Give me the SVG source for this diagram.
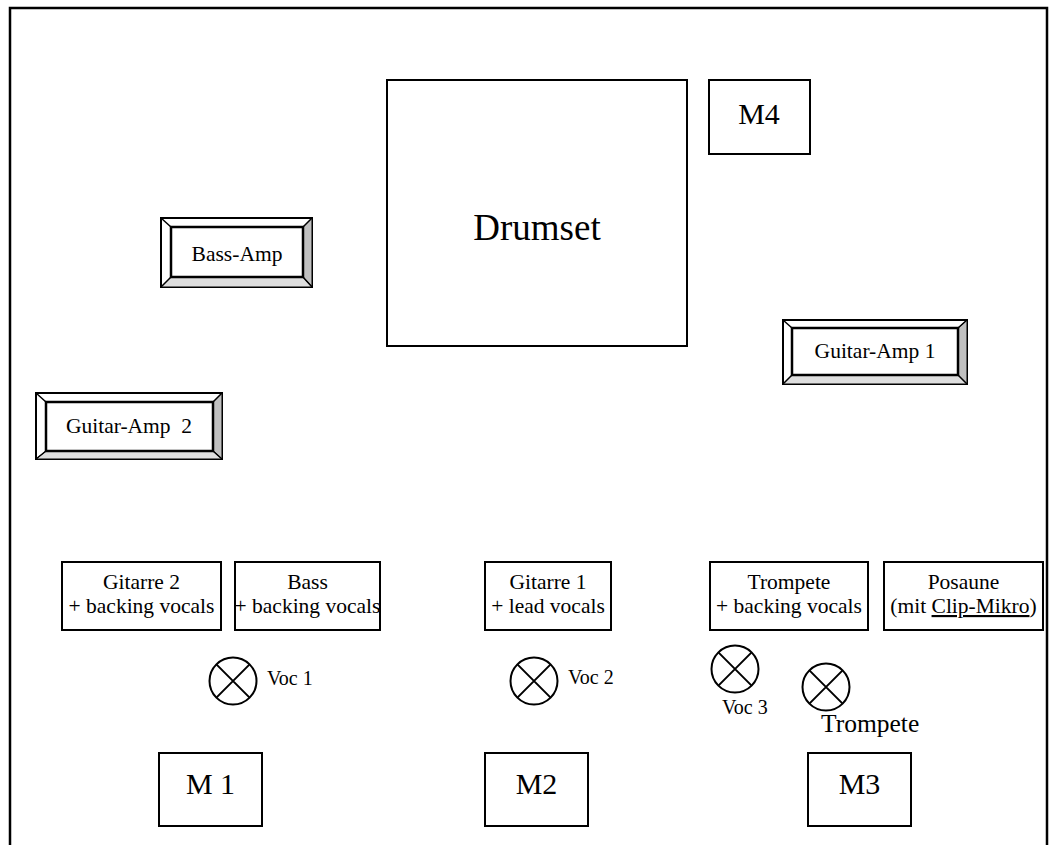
<svg xmlns="http://www.w3.org/2000/svg" width="1050" height="845" viewBox="0 0 1050 845">
<style>
text{font-family:"Liberation Serif","Times New Roman",serif;fill:#000;text-anchor:middle}
.box{fill:#fff;stroke:#000;stroke-width:2}
.s{font-size:21.5px}
.m{font-size:30px}
.v{font-size:20px;text-anchor:start}
.bd{stroke:#000;stroke-width:1.5;fill:none}
.br{fill:#c0c0c0;stroke:#000;stroke-width:1}
.bb{fill:#dedede;stroke:#000;stroke-width:1}
.in{fill:#fff;stroke:#000;stroke-width:2.5}
.mic{fill:#fff;stroke:#000;stroke-width:2}
</style>
<rect width="1050" height="845" fill="#fff"/>
<path d="M10,845 V8 H1047 V845" fill="none" stroke="#000" stroke-width="2.5"/>

<g id="drumset"><rect class="box" x="387" y="80" width="300" height="266"/><text x="537" y="240" style="font-size:37px">Drumset</text></g>
<g id="m4"><rect class="box" x="709" y="80" width="101" height="74"/><text class="m" x="759" y="124">M4</text></g>

<g id="bass-amp">
<rect class="box" x="161" y="218" width="151" height="69"/>
<polygon class="br" points="312,218 312,287 303,277 303,227"/>
<polygon class="bb" points="161,287 312,287 303,277 171,277"/>
<rect class="in" x="171" y="227" width="132" height="50"/>
<path class="bd" d="M161,218 L171,227 M312,218 L303,227 M161,287 L171,277 M312,287 L303,277"/>
<text class="s" x="237" y="261">Bass-Amp</text>
</g>

<g id="guitar-amp-2">
<rect class="box" x="36" y="393" width="186" height="66"/>
<polygon class="br" points="222,393 222,459 213,451 213,402"/>
<polygon class="bb" points="36,459 222,459 213,451 46,451"/>
<rect class="in" x="46" y="402" width="167" height="49"/>
<path class="bd" d="M36,393 L46,402 M222,393 L213,402 M36,459 L46,451 M222,459 L213,451"/>
<text class="s" x="129" y="433" xml:space="preserve">Guitar-Amp  2</text>
</g>

<g id="guitar-amp-1">
<rect class="box" x="783" y="320" width="184" height="64"/>
<polygon class="br" points="967,320 967,384 958,375 958,328"/>
<polygon class="bb" points="783,384 967,384 958,375 792,375"/>
<rect class="in" x="792" y="328" width="166" height="47"/>
<path class="bd" d="M783,320 L792,328 M967,320 L958,328 M783,384 L792,375 M967,384 L958,375"/>
<text class="s" x="875" y="358">Guitar-Amp 1</text>
</g>

<g id="gitarre2"><rect class="box" x="62" y="562" width="159" height="68"/><text class="s" x="141.5" y="589">Gitarre 2</text><text class="s" x="141.5" y="613">+ backing vocals</text></g>
<g id="bass"><rect class="box" x="235" y="562" width="145" height="68"/><text class="s" x="307.5" y="589">Bass</text><text class="s" x="307.5" y="613">+ backing vocals</text></g>
<g id="gitarre1"><rect class="box" x="485" y="562" width="126" height="68"/><text class="s" x="548" y="589">Gitarre 1</text><text class="s" x="548" y="613">+ lead vocals</text></g>
<g id="trompete"><rect class="box" x="710" y="562" width="158" height="68"/><text class="s" x="789" y="589">Trompete</text><text class="s" x="789" y="613">+ backing vocals</text></g>
<g id="posaune"><rect class="box" x="884" y="562" width="159" height="68"/><text class="s" x="963.5" y="589">Posaune</text><text class="s" x="963.5" y="613">(mit <tspan text-decoration="underline">Clip-Mikro</tspan>)</text></g>

<g id="voc1"><circle class="mic" cx="233" cy="681" r="23.5"/><path class="mic" d="M216.4,664.4 L249.6,697.6 M249.6,664.4 L216.4,697.6"/><text class="v" x="267" y="685">Voc 1</text></g>
<g id="voc2"><circle class="mic" cx="534" cy="681" r="23.5"/><path class="mic" d="M517.4,664.4 L550.6,697.6 M550.6,664.4 L517.4,697.6"/><text class="v" x="568" y="684">Voc 2</text></g>
<g id="voc3"><circle class="mic" cx="735" cy="669" r="23.5"/><path class="mic" d="M718.4,652.4 L751.6,685.6 M751.6,652.4 L718.4,685.6"/><text class="v" x="722" y="714">Voc 3</text></g>
<g id="mic-trompete"><circle class="mic" cx="826" cy="687" r="23.5"/><path class="mic" d="M809.4,670.4 L842.6,703.6 M842.6,670.4 L809.4,703.6"/><text x="821" y="732" style="text-anchor:start;font-size:25.5px">Trompete</text></g>

<g id="m1"><rect class="box" x="159" y="753" width="103" height="73"/><text class="m" x="210.5" y="794">M 1</text></g>
<g id="m2"><rect class="box" x="485" y="753" width="103" height="73"/><text class="m" x="536.5" y="794">M2</text></g>
<g id="m3"><rect class="box" x="808" y="753" width="103" height="73"/><text class="m" x="859.5" y="794">M3</text></g>
<g id="connectors"></g>
</svg>
